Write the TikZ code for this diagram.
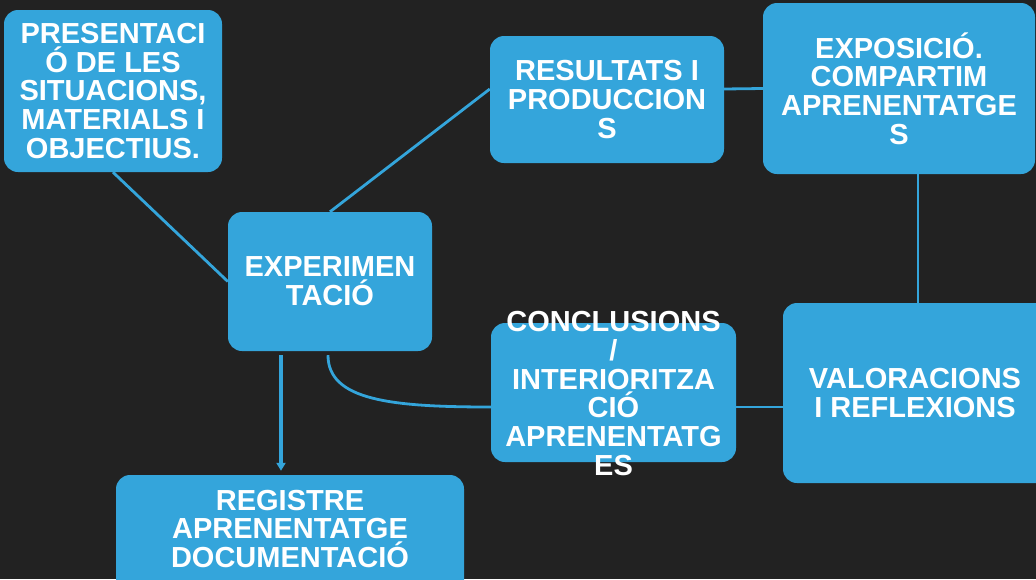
\documentclass[tikz,border=0pt]{standalone}
\usepackage{fontspec}
\setmainfont{Liberation Sans}
\usetikzlibrary{arrows.meta,calc}
\definecolor{boardbg}{RGB}{34,34,34}
\definecolor{cardblue}{RGB}{52,165,219}

\begin{document}
\begin{tikzpicture}[x=1pt,y=-1pt,
  card/.style={fill=cardblue,rounded corners=14pt,inner sep=0pt},
  cardtext/.style={text=white,align=center,inner sep=0pt,font=\fontsize{29}{28.8}\selectfont\bfseries},
  link/.style={draw=cardblue,line width=2.8pt}]
\fill[boardbg] (0,0) rectangle (1036,579);
\useasboundingbox (0,0) rectangle (1036,579);
% cards
\node[card,minimum width=218pt,minimum height=162pt] (pres) at (113,91) {};
\node[card,minimum width=204pt,minimum height=139pt] (expe) at (330,281.5) {};
\node[card,minimum width=234pt,minimum height=127pt] (resu) at (607,99.5) {};
\node[card,minimum width=272pt,minimum height=171pt] (expo) at (899,88.5) {};
\node[card,minimum width=245pt,minimum height=139pt] (conc) at (613.5,392.5) {};
\node[card,minimum width=270pt,minimum height=180pt] (valo) at (918,393) {};
\node[card,minimum width=348pt,minimum height=125pt] (regi) at (290,537.5) {};
% texts
\node[cardtext] (presT) at (pres) {PRESENTACI\\Ó DE LES\\SITUACIONS,\\MATERIALS I\\OBJECTIUS.};
\node[cardtext] (expeT) at (expe) {EXPERIMEN\\TACIÓ};
\node[cardtext] (resuT) at (resu) {RESULTATS I\\PRODUCCION\\S};
\node[cardtext] (expoT) at (expo) {EXPOSICIÓ.\\COMPARTIM\\APRENENTATGE\\S};
\node[cardtext] (concT) at (613.5,393.5) {CONCLUSIONS\\/\\INTERIORITZA\\CIÓ\\APRENENTATG\\ES};
\node[cardtext] (valoT) at (915,393) {VALORACIONS\\I REFLEXIONS};
\node[cardtext] (regiT) at (290,529) {REGISTRE\\APRENENTATGE\\DOCUMENTACIÓ};
%%%%%%%%%%%%%%%%%%%%%%%%%%%%%%
\draw[link] (pres.south) -- (expe.west);
\draw[link] (expe.north) -- ([yshift=10.5pt]resu.west);
\draw[link] ([yshift=10.5pt]resu.east) -- (expo.west);
\draw[link] (expo.south -| valo.north) -- (valo.north);
\draw[link] ([yshift=-14.5pt]conc.east) -- ([yshift=-14.5pt]conc.east -| valo.west);
\draw[link] ([xshift=-2pt,yshift=-4pt]expe.south) .. controls +(0,45) and +(-100,0) .. ([yshift=-14.5pt]conc.west);
\draw[link,line width=3.2pt,shorten >=4pt,-{Triangle[width=9pt,length=8pt]}]
  ([xshift=-49pt,yshift=-4pt]expe.south) -- ([xshift=-49pt]expe.south |- regi.north);
\end{tikzpicture}
\end{document}
